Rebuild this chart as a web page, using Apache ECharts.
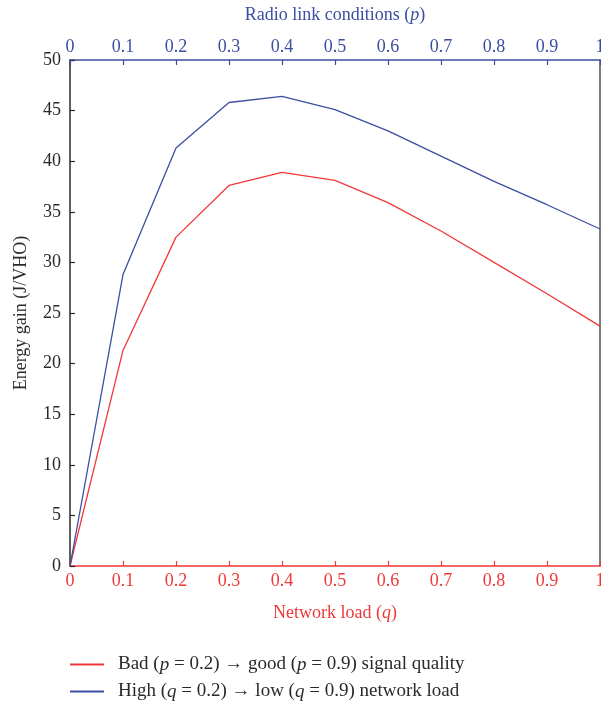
<!DOCTYPE html>
<html>
<head>
<meta charset="utf-8">
<script src="https://cdn.jsdelivr.net/npm/echarts@6/dist/echarts.min.js"></script>
<style>html,body{margin:0;padding:0;background:#fff}#c{width:601px;height:703px}</style>
</head>
<body>
<div id="c"></div>
<script>
const xValues = [0, 0.1, 0.2, 0.3, 0.4, 0.5, 0.6, 0.7, 0.8, 0.9, 1.0];
const redValues = [0, 21.3, 32.5, 37.6, 38.9, 38.1, 35.9, 33.1, 30.0, 26.9, 23.7];
const blueValues = [0, 28.8, 41.3, 45.8, 46.4, 45.1, 43.0, 40.5, 38.0, 35.7, 33.3];
const redName = 'Bad (p = 0.2) → good (p = 0.9) signal quality';
const blueName = 'High (q = 0.2) → low (q = 0.9) network load';

const RED = '#f03838';
const BLUE = '#3b4ea2';
const BLACK = '#2a2a2a';
const FONT = 'Liberation Serif';

const chart = echarts.init(document.getElementById('c'));
const tickFmt = v => (Math.abs(v - 1) < 1e-9 ? '1' : (Math.abs(v) < 1e-9 ? '0' : v.toFixed(1)));

function xAxisCfg(pos, color, nameRich) {
  return {
    type: 'value', position: pos, min: 0, max: 1, interval: 0.1,
    name: nameRich, nameLocation: 'middle', nameGap: pos === 'top' ? 36 : 38,
    nameTextStyle: { color: color, fontFamily: FONT, fontSize: 18,
      rich: { i: { fontStyle: 'italic', color: color, fontFamily: FONT, fontSize: 18 } } },
    axisLine: { show: true, onZero: false, lineStyle: { color: color, width: 1.5 } },
    axisTick: { show: true, inside: true, length: 5, lineStyle: { color: color, width: 1.2 } },
    axisLabel: { color: color, fontFamily: FONT, fontSize: 18, margin: pos === 'top' ? 4 : 6, formatter: tickFmt },
    splitLine: { show: false }
  };
}

function legendCfg(name, top) {
  return {
    left: 70, top: top, padding: 0, itemWidth: 34, itemHeight: 2, icon: 'rect',
    textStyle: { color: BLACK, fontFamily: FONT, fontSize: 19, padding: [0, 0, 0, 9],
      rich: { i: { fontStyle: 'italic', fontFamily: FONT, fontSize: 19, color: BLACK } } },
    formatter: function (n) { return n.replace(/\b([pq]) =/g, '{i|$1} ='); },
    data: [name]
  };
}

chart.setOption({
  animation: false,
  backgroundColor: '#fff',
  grid: { left: 70, right: 1, top: 60, bottom: 137, containLabel: false, outerBoundsMode: 'none' },
  xAxis: [
    xAxisCfg('bottom', RED, 'Network load ({i|q})'),
    xAxisCfg('top', BLUE, 'Radio link conditions ({i|p})')
  ],
  yAxis: [
    {
      type: 'value', position: 'left', min: 0, max: 50, interval: 5,
      name: 'Energy gain (J/VHO)', nameLocation: 'middle', nameGap: 40,
      nameTextStyle: { color: BLACK, fontFamily: FONT, fontSize: 18 },
      axisLine: { show: true, onZero: false, lineStyle: { color: BLACK, width: 1.5 } },
      axisTick: { show: true, inside: true, length: 5, lineStyle: { color: BLACK, width: 1.2 } },
      axisLabel: { color: BLACK, fontFamily: FONT, fontSize: 18, margin: 9 },
      splitLine: { show: false }
    },
    {
      type: 'value', position: 'right', min: 0, max: 50, interval: 5,
      axisLine: { show: true, onZero: false, lineStyle: { color: '#555', width: 1.5 } },
      axisTick: { show: false }, axisLabel: { show: false }, splitLine: { show: false }
    }
  ],
  legend: [legendCfg(redName, 655), legendCfg(blueName, 682)],
  series: [
    {
      name: redName, type: 'line', xAxisIndex: 0, yAxisIndex: 0, symbol: 'none',
      lineStyle: { color: RED, width: 1.3 }, itemStyle: { color: RED },
      data: xValues.map((x, i) => [x, redValues[i]])
    },
    {
      name: blueName, type: 'line', xAxisIndex: 1, yAxisIndex: 0, symbol: 'none',
      lineStyle: { color: BLUE, width: 1.3 }, itemStyle: { color: BLUE },
      data: xValues.map((x, i) => [x, blueValues[i]])
    }
  ]
});
</script>
</body>
</html>
